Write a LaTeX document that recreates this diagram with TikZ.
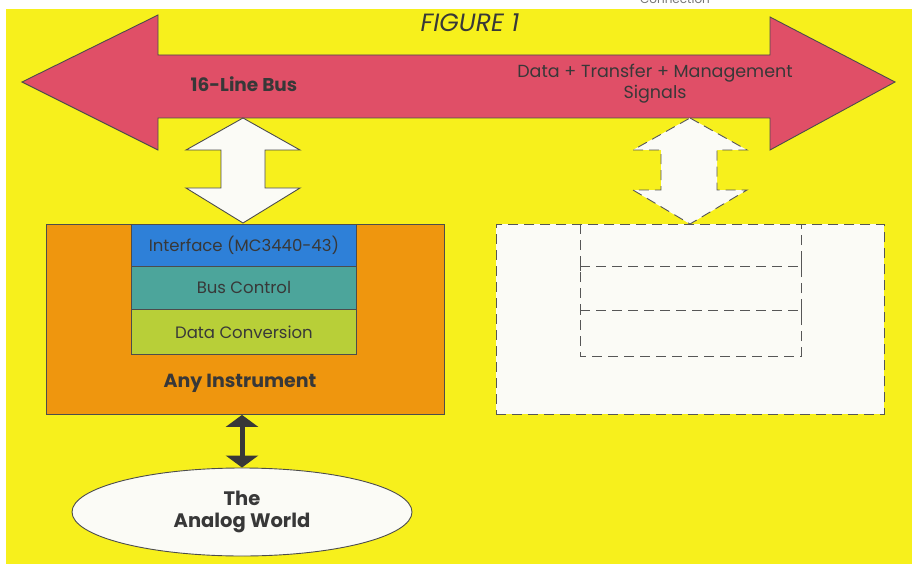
\documentclass[tikz,border=0pt]{standalone}
\usepackage{fontspec}
\setmainfont{Poppins}
\usetikzlibrary{shapes.geometric,arrows.meta}
\definecolor{bgyel}{HTML}{F7F01C}
\definecolor{busred}{HTML}{E04F67}
\definecolor{instor}{HTML}{EF960E}
\definecolor{ifblue}{HTML}{2E80D8}
\definecolor{bcteal}{HTML}{4CA59B}
\definecolor{dclime}{HTML}{B8CF38}
\definecolor{txt}{HTML}{383838}
\definecolor{wfill}{HTML}{FBFBF6}
\tikzset{
  outl/.style={draw=txt!90,line width=0.9pt},
  layer/.style={outl,minimum width=225pt,anchor=north west,inner sep=0pt,text=txt,font=\fontsize{16.5}{19}\selectfont},
  dsh/.style={draw=txt!85,line width=0.9pt,dash pattern=on 10pt off 6pt},
  tick/.style={draw=txt!85,line width=0.9pt},
  boldtxt/.style={text=txt,font=\fontsize{19}{22}\selectfont\bfseries},
  plaintxt/.style={text=txt,font=\fontsize{17.5}{21}\selectfont},
}
\begin{document}
\begin{tikzpicture}[x=1pt,y=-1pt]
\useasboundingbox (0,0) rectangle (912,564);
\fill[white] (0,0) rectangle (912,564);
\fill[bgyel] (6,9) rectangle (912,564);
\begin{scope}
\clip (0,0) rectangle (912,9);
\node[text=txt!70,font=\fontsize{12}{14}\selectfont] (conn) at (675,-1) {Connection};
\end{scope}
% title
\node[text=txt,font=\fontsize{25}{28}\selectfont\itshape] (title) at (470,23) {FIGURE 1};
% big bus arrow
\filldraw[fill=busred,outl] (22,82)--(158,15)--(158,55)--(770,55)--(770,17)--(895,82)--(770,150)--(770,118)--(158,118)--(158,150)--cycle;
\node[boldtxt,font=\fontsize{18.5}{22}\selectfont\bfseries] (bus) at (244,84) {16-Line Bus};
\node[plaintxt,align=center] (sig) at (655,84) {Data + Transfer + Management\\Signals};
% left white double arrow
\filldraw[fill=wfill,outl] (243,118)--(300,150)--(265,150)--(265,188)--(300,188)--(243,223)--(186,188)--(221,188)--(221,150)--(186,150)--cycle;
% right dashed double arrow
\filldraw[fill=wfill,dsh] (690,118)--(747,150)--(717,150)--(717,190)--(747,190)--(690,224)--(633,190)--(661,190)--(661,150)--(633,150)--cycle;
% instrument box
\node[fill=instor,outl,minimum width=398pt,minimum height=190pt,anchor=north west,inner sep=0pt] (inst) at (46,224) {};
\node[layer,fill=ifblue,minimum height=42pt] (if) at (131,224) {Interface (MC3440-43)};
\node[layer,fill=bcteal,minimum height=43pt] (bc) at (131,266) {Bus Control};
\node[layer,fill=dclime,minimum height=45pt] (dc) at (131,309) {Data Conversion};
\node[boldtxt] (any) at (240,383) {Any Instrument};
% dashed box
\node[fill=wfill,dsh,minimum width=388pt,minimum height=190pt,anchor=north west,inner sep=0pt] (dbox) at (496,224) {};
\draw[dsh] (580,224)--(580,356)--(801,356)--(801,224);
\draw[dsh] (580,266)--(801,266);
\draw[dsh] (580,310)--(801,310);
\foreach \yy in {266,310}{
  \draw[tick] (580,\yy-5)--(580,\yy+5);
  \draw[tick] (801,\yy-5)--(801,\yy+5);
}
% analog world
\node[ellipse,fill=wfill,outl,minimum width=340pt,minimum height=88pt,inner sep=0pt,boldtxt,align=center,font=\fontsize{19.5}{22}\selectfont\bfseries] (aw) at (242,512) {The\\Analog World};
\draw[line width=5pt,draw=txt,{Triangle[width=32pt,length=12pt]}-{Triangle[width=32pt,length=12pt]}] (inst.south -| aw.north) -- (aw.north);
\end{tikzpicture}
\end{document}
